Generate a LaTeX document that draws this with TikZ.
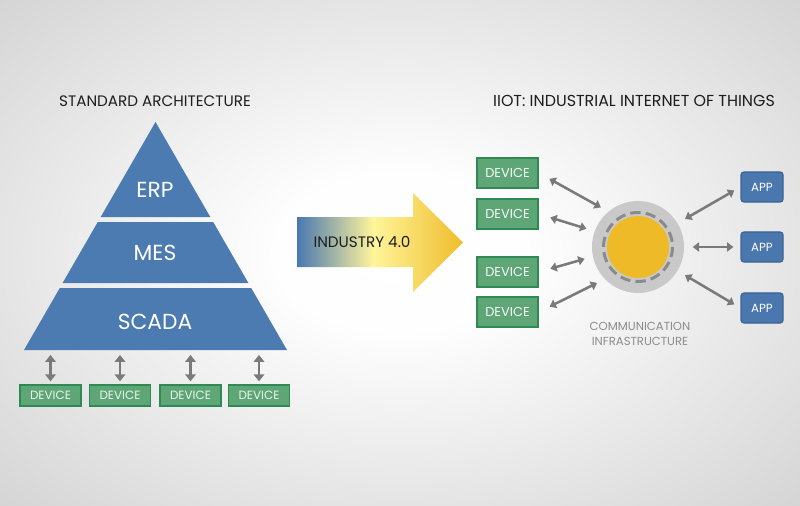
\documentclass[tikz,border=0pt]{standalone}
\usepackage{fontspec}
\setmainfont{Poppins}
\usetikzlibrary{positioning, arrows.meta, calc}
\definecolor{pyrblue}{HTML}{4B7BB0}
\definecolor{devfill}{HTML}{5EA676}
\definecolor{devedge}{HTML}{2E8A55}
\definecolor{appfill}{HTML}{4A78AE}
\definecolor{appedge}{HTML}{3A6496}
\definecolor{linkgray}{HTML}{7A7A7A}
\definecolor{hubgray}{HTML}{C9C9C9}
\definecolor{hubyellow}{HTML}{EFBA28}
\definecolor{ringgray}{HTML}{8A8A8A}
\definecolor{titledark}{HTML}{1E1E1E}
\definecolor{infragray}{HTML}{8C8C8C}
\definecolor{bgedge}{HTML}{D4D4D4}
\definecolor{arrblue}{HTML}{4A78B0}
\definecolor{arrpale}{HTML}{FFF59A}
\definecolor{arrgold}{HTML}{EFBC2C}
\pgfdeclarehorizontalshading{indshade}{100bp}{color(0bp)=(arrblue); color(25bp)=(arrblue); color(48bp)=(arrpale); color(75bp)=(arrgold); color(100bp)=(arrgold)}
\pgfdeclareradialshading{bgshade}{\pgfpoint{0bp}{0bp}}{color(0bp)=(white); color(8bp)=(white!97!bgedge); color(36bp)=(bgedge); color(50bp)=(bgedge)}

\begin{document}
\begin{tikzpicture}[
  x=0.025cm, y=-0.025cm,
  title/.style={font=\fontsize{10.8}{12}\selectfont, text=titledark},
  level/.style={font=\fontsize{15.5}{17}\selectfont, text=white},
  sdev/.style={draw=devedge, fill=devfill, line width=1.2pt, minimum width=1.525cm,
               minimum height=0.525cm, inner sep=0pt, text=white!88!devfill,
               font=\fontsize{8.5}{9}\selectfont},
  dev/.style={sdev, minimum height=0.75cm, text=white!95!devfill, font=\fontsize{9.2}{10}\selectfont},
  app/.style={draw=appedge, fill=appfill, line width=0.8pt, rounded corners=2pt,
              minimum width=1.05cm, minimum height=0.75cm, inner sep=0pt,
              text=white, font=\fontsize{8.4}{9}\selectfont},
  link/.style={{Triangle[length=4.5pt,width=6.5pt]}-{Triangle[length=4.5pt,width=6.5pt]},
               linkgray, line width=1.8pt},
  vlink/.style={link, {Triangle[length=5pt,width=7.5pt]}-{Triangle[length=5pt,width=7.5pt]}},
]
  % background
  \shade[shading=bgshade] (0,0) rectangle (800,505);
  \useasboundingbox (0,0) rectangle (800,505);

  % Standard architecture
  \node[title] (stdtitle) at (155,101) {STANDARD ARCHITECTURE};
  \fill[pyrblue] (155.5,122) -- (210.3,217) -- (100.7,217) -- cycle;
  \fill[pyrblue] (97.8,222) -- (213.2,222) -- (248.4,283) -- (62.6,283) -- cycle;
  \fill[pyrblue] (59.8,288) -- (251.2,288) -- (287,350) -- (24,350) -- cycle;
  \coordinate (base) at (155,350);
  \node[level] (erp) at (155,190) {ERP};
  \node[level] (mes) at (155,253) {MES};
  \node[level] (scada) at (155,322) {SCADA};
  \node[sdev] (sd1) at (50.5,395.5) {DEVICE};
  \node[sdev] (sd2) at (120,395.5) {DEVICE};
  \node[sdev] (sd3) at (190.5,395.5) {DEVICE};
  \node[sdev] (sd4) at (259,395.5) {DEVICE};
  \foreach \k in {1,...,4}
    \draw[vlink, shorten <=3.5pt, shorten >=2pt] (sd\k.north |- base) -- (sd\k.north);

  % Industry 4.0 arrow
  \shade[shading=indshade] (297,217) -- (413,217) -- (413,193) -- (463,242.5)
    -- (413,292) -- (413,267) -- (297,267) -- cycle;
  \node[font=\fontsize{10.8}{12}\selectfont, text=titledark] (ind) at (362,242) {INDUSTRY 4.0};

  % IIoT
  \node[title, font=\fontsize{11.3}{12}\selectfont] (iiottitle) at (634,101) {IIOT: INDUSTRIAL INTERNET OF THINGS};
  \node[circle, fill=hubgray, minimum size=2.3cm, inner sep=0pt] (hub) at (638,247) {};
  \fill[hubyellow] (hub.center) circle (31);
  \draw[ringgray, line width=2.1pt, dash pattern=on 7.3pt off 3.71pt] (hub.center) circle (34.5);
  \node[font=\fontsize{8.3}{10.5}\selectfont, text=infragray, align=center] (infra)
    at (640,334) {COMMUNICATION\\INFRASTRUCTURE};

  \node[dev] (dev1) at (507.5,173) {DEVICE};
  \node[dev] (dev2) at (507.5,214) {DEVICE};
  \node[dev] (dev3) at (507.5,272) {DEVICE};
  \node[dev] (dev4) at (507.5,312) {DEVICE};
  \node[app] (app1) at (762,187) {APP};
  \node[app] (app2) at (762,247) {APP};
  \node[app] (app3) at (762,308) {APP};

  % Links
  \draw[link, shorten <=8.5pt, shorten >=6pt] (dev1.east) -- (hub.130);
  \draw[link, shorten <=8.5pt, shorten >=6pt] (dev2.east) -- (hub.160);
  \draw[link, shorten <=8.5pt, shorten >=6pt] (dev3.east) -- (hub.192);
  \draw[link, shorten <=8.5pt, shorten >=6pt] (dev4.east) -- (hub.224);
  \draw[link, shorten <=6pt, shorten >=5pt] (hub.31) -- (app1.west);
  \draw[link, shorten <=6pt, shorten >=5pt] (hub.0) -- (app2.west);
  \draw[link, shorten <=6pt, shorten >=5pt] (hub.-31) -- (app3.west);
\end{tikzpicture}
\end{document}
